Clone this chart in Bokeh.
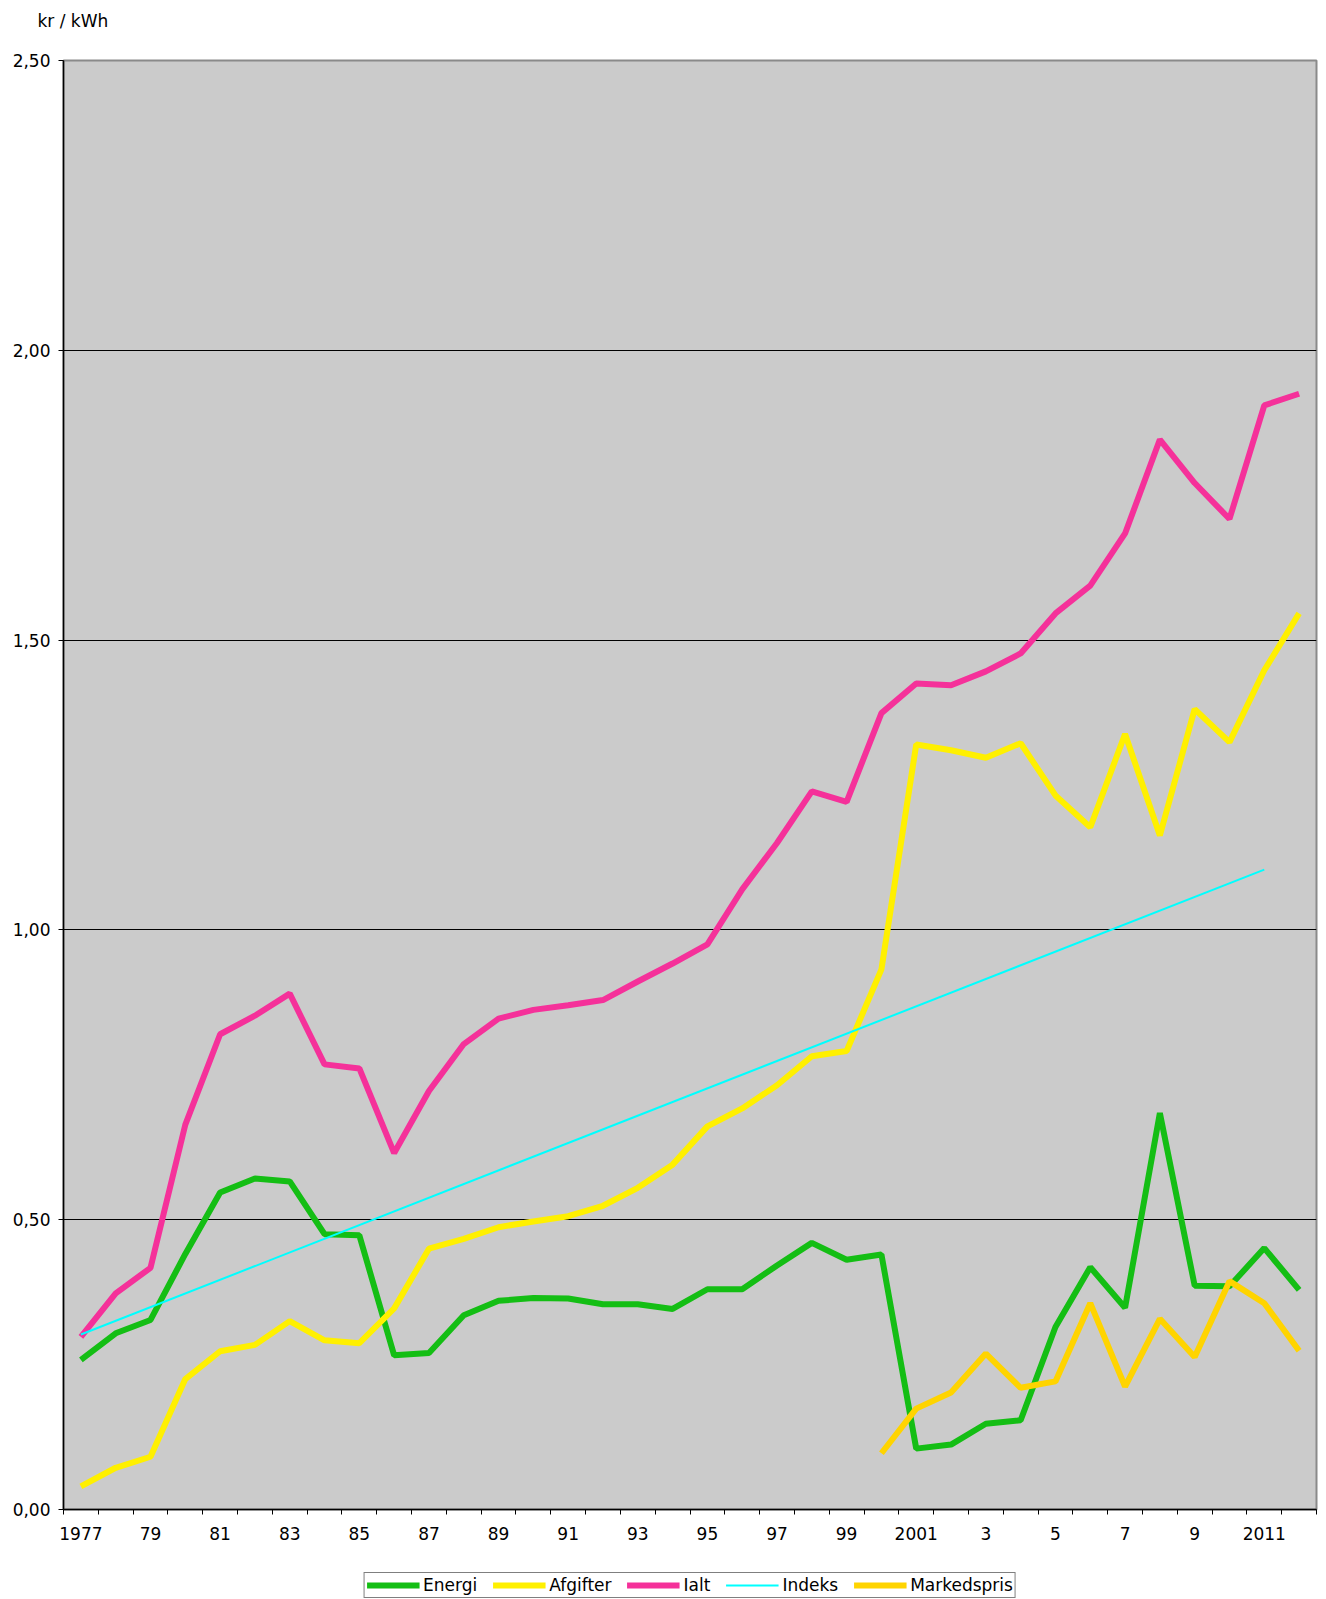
from bokeh.plotting import figure
from bokeh.layouts import column
from bokeh.models import FixedTicker, Range1d, Legend, LegendItem
from bokeh.embed import file_html
from bokeh.resources import INLINE

# ---------------- data ----------------
years = list(range(1977, 2013))
energi = [0.258, 0.304, 0.327, 0.441, 0.547, 0.571, 0.566, 0.475, 0.473, 0.266,
          0.270, 0.335, 0.360, 0.365, 0.364, 0.354, 0.354, 0.346, 0.380, 0.380,
          0.421, 0.460, 0.431, 0.440, 0.105, 0.112, 0.148, 0.154, 0.315, 0.418,
          0.348, 0.684, 0.386, 0.385, 0.451, 0.379]
afgifter = [0.040, 0.072, 0.091, 0.225, 0.273, 0.284, 0.325, 0.292, 0.287, 0.347,
            0.450, 0.467, 0.487, 0.497, 0.506, 0.524, 0.555, 0.595, 0.661, 0.692,
            0.732, 0.782, 0.791, 0.932, 1.320, 1.310, 1.297, 1.322, 1.232, 1.177,
            1.338, 1.163, 1.381, 1.324, 1.448, 1.546]
ialt = [0.298, 0.373, 0.417, 0.664, 0.820, 0.852, 0.890, 0.768, 0.761, 0.615,
        0.722, 0.803, 0.847, 0.862, 0.870, 0.879, 0.911, 0.942, 0.975, 1.070,
        1.150, 1.239, 1.221, 1.374, 1.425, 1.422, 1.446, 1.477, 1.546, 1.594,
        1.684, 1.846, 1.771, 1.709, 1.905, 1.925]
indeks_years = [1977, 2011]
indeks = [0.302, 1.104]
marked_years = list(range(2000, 2013))
markedspris = [0.097, 0.174, 0.202, 0.269, 0.210, 0.221, 0.356, 0.212, 0.329,
               0.263, 0.394, 0.356, 0.274]

x_tick_years = [1977, 1979, 1981, 1983, 1985, 1987, 1989, 1991, 1993, 1995,
                1997, 1999, 2001, 2003, 2005, 2007, 2009, 2011]
x_tick_labels = ["1977", "79", "81", "83", "85", "87", "89", "91", "93", "95",
                 "97", "99", "2001", "3", "5", "7", "9", "2011"]
y_ticks = [0.0, 0.5, 1.0, 1.5, 2.0, 2.5]
y_tick_labels = ["0,00", "0,50", "1,00", "1,50", "2,00", "2,50"]
series_names = ["Energi", "Afgifter", "Ialt", "Indeks", "Markedspris"]
unit_label = "kr / kWh"

FONT = "DejaVu Sans"
FS = "17px"
colors = ["#14BE14", "#FFF000", "#F5319A", "#00FFFF", "#FFD400"]
widths = [6, 6, 6, 2, 6]

# ---------------- main chart ----------------
p = figure(width=1326, height=1559, output_backend="svg", toolbar_location=None,
           x_range=Range1d(years[0] - 0.5, years[-1] + 0.5),
           y_range=Range1d(0, 2.5),
           min_border_left=63, min_border_right=10, min_border_top=60,
           min_border_bottom=50)

p.background_fill_color = "#CBCBCB"
p.border_fill_color = "white"
p.outline_line_color = "#8a8a8a"
p.outline_line_width = 2

# unit label as the title; the trailing empty line keeps it at the top of the page
p.title.text = unit_label + "\n"
p.title.align = "left"
p.title.vertical_align = "top"
p.title.offset = -26
p.title.standoff = 16
p.title.text_font = FONT
p.title.text_font_size = FS
p.title.text_font_style = "normal"
p.title.text_color = "black"

p.xgrid.grid_line_color = None
p.ygrid.ticker = FixedTicker(ticks=[0.5, 1.0, 1.5, 2.0])
p.ygrid.grid_line_color = "black"
p.ygrid.grid_line_width = 1

xa = p.xaxis[0]
xa.ticker = FixedTicker(ticks=x_tick_years,
                        minor_ticks=[y - 0.5 for y in years] + [years[-1] + 0.5])
xa.major_label_overrides = {t: l for t, l in zip(x_tick_years, x_tick_labels)}
xa.major_tick_line_color = None
xa.major_tick_out = 0
xa.major_tick_in = 0
xa.minor_tick_line_color = "black"
xa.minor_tick_out = 5
xa.minor_tick_in = 0
xa.axis_line_color = "black"
xa.axis_line_width = 1.5
xa.major_label_standoff = 12
xa.major_label_text_font = FONT
xa.major_label_text_font_size = FS
xa.major_label_text_color = "black"

ya = p.yaxis[0]
ya.ticker = FixedTicker(ticks=y_ticks)
ya.major_label_overrides = {t: l for t, l in zip(y_ticks, y_tick_labels)}
ya.major_tick_line_color = "black"
ya.major_tick_out = 5
ya.major_tick_in = 0
ya.minor_tick_line_color = None
ya.axis_line_color = "black"
ya.axis_line_width = 1.5
ya.major_label_standoff = 8
ya.major_label_text_font = FONT
ya.major_label_text_font_size = FS
ya.major_label_text_color = "black"

p.line(years, energi, line_color=colors[0], line_width=widths[0])
p.line(years, afgifter, line_color=colors[1], line_width=widths[1])
p.line(years, ialt, line_color=colors[2], line_width=widths[2])
p.line(indeks_years, indeks, line_color=colors[3], line_width=widths[3])
p.line(marked_years, markedspris, line_color=colors[4], line_width=widths[4])

# ---------------- legend strip (frame aligned with the main chart) ----------------
lg = figure(width=1326, height=40, output_backend="svg", toolbar_location=None,
            x_range=Range1d(0, 1), y_range=Range1d(0, 1),
            min_border_left=63, min_border_right=10, min_border_top=0,
            min_border_bottom=0)
lg.xaxis.visible = False
lg.yaxis.visible = False
lg.xgrid.visible = False
lg.ygrid.visible = False
lg.outline_line_color = None
lg.background_fill_color = "white"
lg.border_fill_color = "white"

# legend keys: lines kept outside the visible range of the strip
legend_renderers = [lg.line([-5, -4], [-5, -5], line_color=c, line_width=w)
                    for c, w in zip(colors, widths)]
legend = Legend(items=[LegendItem(label=n, renderers=[r]) for n, r in zip(series_names, legend_renderers)],
                location="top_center", orientation="horizontal",
                glyph_width=53, glyph_height=20, label_height=20,
                label_standoff=4, spacing=15, padding=2, margin=13,
                label_text_font=FONT, label_text_font_size=FS, label_text_color="black",
                border_line_color="black", border_line_width=1,
                background_fill_color="white", background_fill_alpha=1)
lg.add_layout(legend, "center")

layout = column(p, lg, spacing=0)
open("out.html", "w").write(file_html(layout, INLINE))
